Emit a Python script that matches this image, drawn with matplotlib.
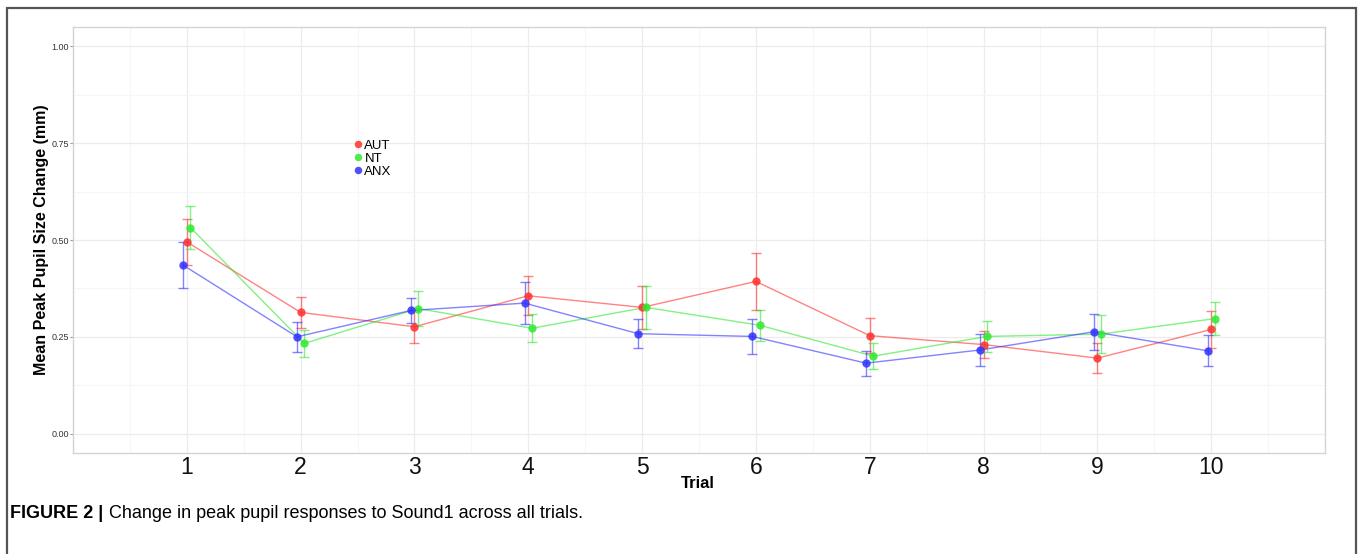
import matplotlib.pyplot as plt
import numpy as np
from matplotlib.patches import Rectangle

# values
trials = [1, 2, 3, 4, 5, 6, 7, 8, 9, 10]
groups = ['AUT', 'NT', 'ANX']
aut_mean = [0.495, 0.313, 0.276, 0.356, 0.326, 0.393, 0.253, 0.230, 0.195, 0.269]
aut_se = [0.059, 0.040, 0.043, 0.050, 0.056, 0.073, 0.045, 0.035, 0.039, 0.047]
nt_mean = [0.532, 0.233, 0.323, 0.272, 0.326, 0.280, 0.200, 0.251, 0.257, 0.297]
nt_se = [0.056, 0.034, 0.045, 0.036, 0.056, 0.040, 0.034, 0.040, 0.050, 0.042]
anx_mean = [0.435, 0.250, 0.318, 0.337, 0.258, 0.251, 0.182, 0.216, 0.263, 0.214]
anx_se = [0.060, 0.039, 0.033, 0.054, 0.037, 0.045, 0.032, 0.042, 0.046, 0.040]

colors = {'AUT': '#ff3030', 'NT': '#30e830', 'ANX': '#3030ff'}
dodge = {'AUT': 0.0, 'NT': 0.032, 'ANX': -0.032}
series = {'AUT': (aut_mean, aut_se), 'NT': (nt_mean, nt_se), 'ANX': (anx_mean, anx_se)}

plt.rcParams['font.family'] = ['Liberation Sans', 'DejaVu Sans']

fig = plt.figure(figsize=(13.58, 5.54), dpi=100)
ax = fig.add_axes([73 / 1358, 1 - 453 / 554, 1252 / 1358, 426 / 554])

x = np.array(trials, dtype=float)
for g in groups:
    m, s = series[g]
    xs = x + dodge[g]
    ax.plot(xs, m, color=colors[g], lw=1.0, alpha=0.6, zorder=3)
    ax.errorbar(xs, m, yerr=s, fmt='none', ecolor=colors[g], elinewidth=1.0,
                capsize=3.3, capthick=1.0, alpha=0.6, zorder=3)
    ax.plot(xs, m, 'o', color=colors[g], ms=6, mec='none', alpha=0.85,
            zorder=4, label=g)

ax.set_xlim(0, 11)
ax.set_ylim(-0.05, 1.05)
ax.set_xticks(trials)
ax.set_xticks(np.arange(0.5, 11, 1), minor=True)
ax.set_yticks([0, 0.25, 0.5, 0.75, 1.0])
ax.set_yticks([0.125, 0.375, 0.625, 0.875], minor=True)
ax.set_yticklabels(['0.00', '0.25', '0.50', '0.75', '1.00'])
ax.grid(which='major', color='#ececec', lw=0.9)
ax.grid(which='minor', color='#f6f6f6', lw=0.8)
ax.set_axisbelow(True)
for sp in ax.spines.values():
    sp.set_color('#d4d4d4')
    sp.set_linewidth(1.0)

ax.tick_params(axis='x', which='major', length=0, labelsize=16.5, pad=2,
               labelcolor='#111111')
ax.tick_params(axis='y', which='major', length=2, color='#999999', labelsize=6.5,
               pad=1, labelcolor='#333333')
ax.tick_params(which='minor', length=0)

ax.set_xlabel('Trial', fontsize=12, fontweight='bold')
ax.xaxis.set_label_coords(0.499, -0.055)
ax.set_ylabel('Mean Peak Pupil Size Change (mm)', fontsize=11.5, fontweight='bold')
ax.yaxis.set_label_coords(-0.0195, 0.5)

leg = ax.legend(loc='upper left', bbox_to_anchor=(0.218, 0.757), frameon=False,
                fontsize=9.5, handlelength=0.5, handletextpad=0.2,
                labelspacing=0.05, borderpad=0.2, markerscale=0.9)

# caption and outer frame
cap_y = 1 - 514 / 554
t1 = fig.text(10 / 1358, cap_y, 'FIGURE 2 |', fontsize=13, fontweight='bold',
              va='center', ha='left')
fig.canvas.draw()
bb = t1.get_window_extent(fig.canvas.get_renderer())
fig.text((bb.x1 + 6) / 1358, cap_y,
         'Change in peak pupil responses to Sound1 across all trials.',
         fontsize=13, va='center', ha='left')
fig.patches.append(Rectangle((7 / 1358, -0.05), 1349 / 1358, 1.05 - 8 / 554,
                             transform=fig.transFigure, fill=False,
                             edgecolor='#555555', lw=1.6))

fig.savefig('out.png', dpi=100)
